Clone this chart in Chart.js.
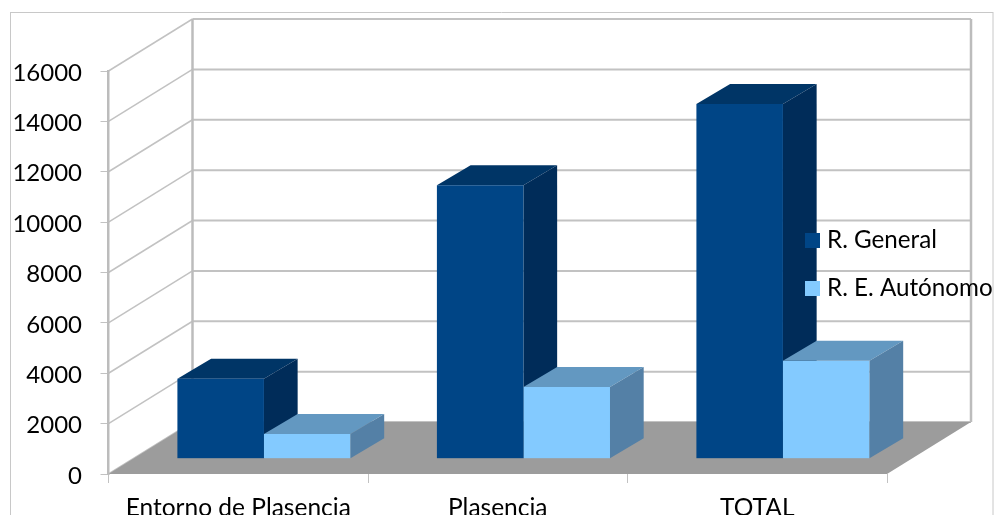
<!DOCTYPE html>
<html>
<head>
<meta charset="utf-8">
<style>
    html, body { margin: 0; padding: 0; background: #fff; overflow: hidden; }
    canvas { display: block; }
</style>
<script src="https://cdn.jsdelivr.net/npm/chart.js@4/dist/chart.umd.min.js"></script>
</head>
<body>
<canvas id="chart" width="996" height="515"></canvas>
<script>
const categories = ["Entorno de Plasencia", "Plasencia", "TOTAL"];
const rGeneral = [3170, 10860, 14080];
const rAutonomo = [980, 2850, 3890];
const yTicks = [0, 2000, 4000, 6000, 8000, 10000, 12000, 14000, 16000];

const FONT = "Lato";
const GRID = "#c2c2c2";

// offsets of the fake 3D view, in pixels
const WALL = { dx: 84, dy: -52 };
const BAR_SHIFT = { dx: 25.7, dy: -15.3 };
const BAR_DEPTH = { dx: 33.7, dy: -20 };

const faces = [
    { top: "#003566", side: "#002c59" },
    { top: "#6398c1", side: "#5480a6" },
];

function line(ctx, x1, y1, x2, y2, width, color) {
    ctx.strokeStyle = color;
    ctx.lineWidth = width;
    ctx.beginPath();
    ctx.moveTo(x1, y1);
    ctx.lineTo(x2, y2);
    ctx.stroke();
}

function poly(ctx, points, color) {
    ctx.fillStyle = color;
    ctx.beginPath();
    points.forEach(([x, y], i) => (i ? ctx.lineTo(x, y) : ctx.moveTo(x, y)));
    ctx.closePath();
    ctx.fill();
}

function drawFaces(chart, datasetIndex) {
    const ctx = chart.ctx;
    const color = faces[datasetIndex];
    chart.getDatasetMeta(datasetIndex).data.forEach((bar) => {
        const left = bar.x - bar.width / 2 + BAR_SHIFT.dx;
        const right = bar.x + bar.width / 2 + BAR_SHIFT.dx;
        const top = bar.y + BAR_SHIFT.dy;
        const bottom = bar.base + BAR_SHIFT.dy;
        poly(ctx, [
            [left, top],
            [left + BAR_DEPTH.dx, top + BAR_DEPTH.dy],
            [right + BAR_DEPTH.dx, top + BAR_DEPTH.dy],
            [right, top],
        ], color.top);
        poly(ctx, [
            [right, top],
            [right + BAR_DEPTH.dx, top + BAR_DEPTH.dy],
            [right + BAR_DEPTH.dx, bottom + BAR_DEPTH.dy],
            [right, bottom],
        ], color.side);
    });
}

const view3d = {
    id: "view3d",
    beforeDraw(chart) {
        const ctx = chart.ctx;
        const { left, right, bottom } = chart.chartArea;
        const y = chart.scales.y;

        // outer chart frame, the bottom edge is cut off by the picture
        line(ctx, 10.5, 515, 10.5, 12.5, 1, "#c8c8c8");
        line(ctx, 10, 12.5, 993, 12.5, 1, "#c8c8c8");
        line(ctx, 993, 12, 993, 515, 1, "#c8c8c8");

        yTicks.forEach((value) => {
            const py = y.getPixelForValue(value);
            line(ctx, left, py, left + WALL.dx, py + WALL.dy, 1.5, GRID);
            line(ctx, left + WALL.dx, py + WALL.dy, right + WALL.dx, py + WALL.dy, 2, GRID);
        });
        const wallTop = y.getPixelForValue(16000) + WALL.dy;
        const wallBottom = y.getPixelForValue(0) + WALL.dy;
        line(ctx, left + WALL.dx, wallTop, left + WALL.dx, wallBottom, 2.5, "#bcbcbc");
        line(ctx, right + WALL.dx, wallTop, right + WALL.dx, wallBottom, 2.5, "#bcbcbc");

        poly(ctx, [
            [left, bottom],
            [left + WALL.dx, bottom + WALL.dy],
            [right + WALL.dx, bottom + WALL.dy],
            [right, bottom],
        ], "#9c9c9c");

        // y labels sit a little under their tick, which the axis option can't do
        ctx.font = `24px ${FONT}`;
        ctx.fillStyle = "#000";
        ctx.textAlign = "right";
        ctx.textBaseline = "middle";
        yTicks.forEach((value) => {
            ctx.fillText(String(value), 82, y.getPixelForValue(value) + 2);
        });
    },
    beforeDatasetsDraw(chart) {
        drawFaces(chart, 0);
    },
    beforeDatasetDraw(chart) {
        chart.ctx.save();
        chart.ctx.translate(BAR_SHIFT.dx, BAR_SHIFT.dy);
    },
    afterDatasetDraw(chart) {
        chart.ctx.restore();
    },
    afterDatasetsDraw(chart) {
        drawFaces(chart, 1);

        // legend sits on top of the last bar
        const ctx = chart.ctx;
        ctx.font = `24.2px ${FONT}`;
        ctx.textAlign = "left";
        ctx.textBaseline = "alphabetic";
        chart.data.datasets.forEach((dataset, i) => {
            const rowY = 233 + i * 48;
            ctx.fillStyle = dataset.backgroundColor;
            ctx.fillRect(805, rowY, 15, 15);
            ctx.fillStyle = "#000";
            ctx.fillText(dataset.label, 827, rowY + 15);
        });
    },
};

new Chart(document.getElementById("chart"), {
    type: "bar",
    data: {
        labels: categories,
        datasets: [
            { label: "R. General", data: rGeneral, backgroundColor: "#004586" },
            { label: "R. E. Autónomo", data: rAutonomo, backgroundColor: "#83caff" },
        ],
    },
    options: {
        responsive: false,
        animation: false,
        events: [],
        layout: { padding: { left: 0, right: 109, top: 71, bottom: 0 } },
        datasets: { bar: { categoryPercentage: 0.667, barPercentage: 1 } },
        plugins: { legend: { display: false }, title: { display: false }, tooltip: { enabled: false } },
        scales: {
            x: {
                afterFit: (scale) => { scale.height = 41; },
                grid: { drawOnChartArea: false, color: "#c2c2c2", tickLength: 9, tickWidth: 1 },
                border: { display: false },
                ticks: {
                    color: "#000",
                    font: { family: FONT, size: 24.5 },
                    padding: 10,
                    autoSkip: false,
                    maxRotation: 0,
                },
            },
            y: {
                min: 0,
                max: 16000,
                afterFit: (scale) => { scale.width = 108.5; },
                afterBuildTicks: (scale) => { scale.ticks = yTicks.map((value) => ({ value })); },
                grid: { drawOnChartArea: false, color: "#c2c2c2", tickLength: 8, tickWidth: 1 },
                border: { display: true, color: "#bcbcbc", width: 2.5 },
                ticks: { display: false },
            },
        },
    },
    plugins: [view3d],
});
</script>
</body>
</html>
